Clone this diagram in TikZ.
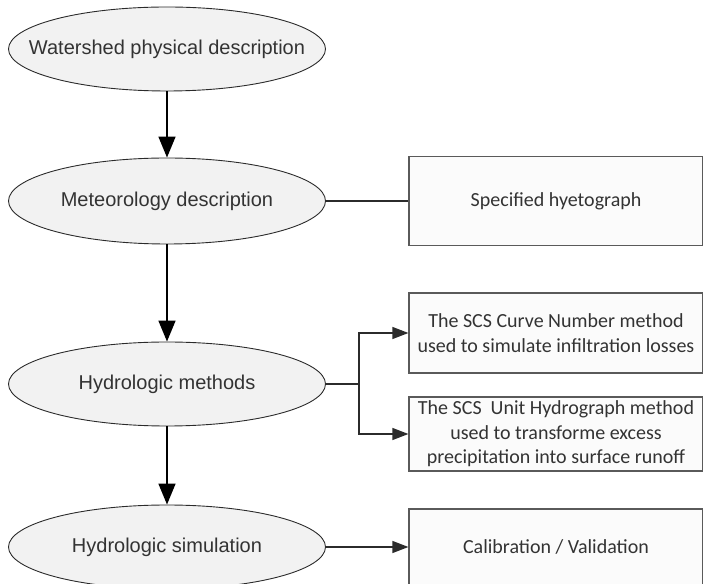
\documentclass[tikz,border=0pt]{standalone}
\usepackage{fontspec}
\setmainfont{Liberation Sans}
\newfontfamily\cardfont{Carlito}
\usepackage{tikz}
\usetikzlibrary{arrows.meta,calc,positioning,shapes.geometric}
\usepackage{xcolor}
\definecolor{HydLine}{HTML}{2B2B2B}
\definecolor{HydText}{HTML}{333333}
\definecolor{HydFill}{HTML}{F2F2F2}
\definecolor{HydCard}{HTML}{FBFBFB}
\definecolor{HydBorder}{HTML}{5A5A5A}

\begin{document}
\begin{tikzpicture}[
  x=1pt,y=1pt,
  flow/.style={-{Triangle[length=21pt,width=17pt]},draw=black,line width=1.6pt},
  feed/.style={-{Triangle[length=16pt,width=12pt]},draw=HydLine,line width=1.2pt},
  link/.style={draw=HydLine,line width=1.2pt},
  stage/.style={ellipse,draw=HydLine,fill=HydFill,line width=0.9pt,
    inner xsep=-30pt,inner ysep=0pt,
    minimum width=317pt,minimum height=84pt,text=HydText,
    font=\fontsize{20}{24}\selectfont},
  card/.style={rectangle,draw=HydBorder,fill=HydCard,line width=1.2pt,inner sep=0pt,
    minimum width=294pt,align=center,text=HydText,
    font=\cardfont\fontsize{20}{25}\selectfont}
]
\clip (0,0) rectangle (703,583);

% Main chain of the modelling steps.
\node[stage] (watershed) at (167,534) {Watershed physical description};
\node[stage,minimum height=86pt] (meteo) at (167,382) {Meteorology description};
\node[stage] (methods) at (167,199) {Hydrologic methods};
\node[stage] (simul) at (167,36) {Hydrologic simulation};

% Boxes on the right side.
\node[card,minimum height=89pt] (hyeto) at (556,382) {Specified hyetograph};
\node[card,minimum height=80pt] (curve) at (556,250)
  {The SCS Curve Number method\\used to simulate infiltration losses};
\node[card,minimum height=74pt,font=\cardfont\fontsize{20}{24.5}\selectfont] (unit) at (556,149)
  {The SCS\ \ Unit Hydrograph method\\used to transforme excess\\precipitation into surface runoff};
\node[card,minimum height=76pt] (calib) at (556,36) {Calibration / Validation};

\draw[flow] (watershed) -- (meteo);
\draw[flow] (meteo) -- (methods);
\draw[flow] (methods) -- (simul);

\draw[link] (meteo.east) -- (meteo.east -| hyeto.west);
\draw[link] (methods.east) -- ++(33,0) coordinate (fork);
\draw[feed] (fork) |- (curve.west);
\draw[feed] (fork) |- (unit.west);
\draw[feed] (simul.east) -- (calib.west);

\end{tikzpicture}
\end{document}
